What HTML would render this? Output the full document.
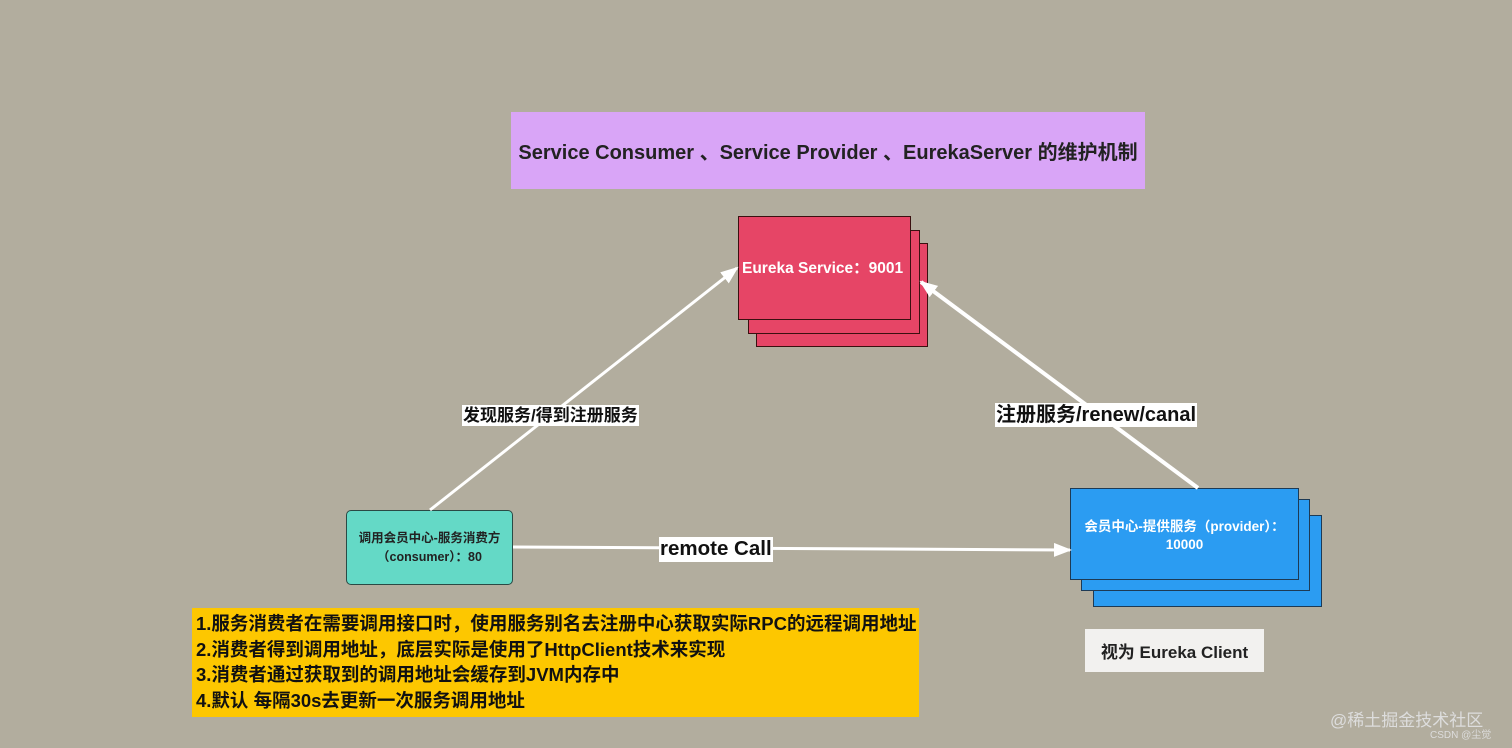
<!DOCTYPE html>
<html><head><meta charset="utf-8"><style>
body{margin:0;width:1512px;height:748px;background:#b2ad9e;position:relative;overflow:hidden;font-family:"Liberation Sans","Noto Sans CJK SC",sans-serif;font-weight:bold}
.a{position:absolute;box-sizing:border-box}
.lbl{position:absolute;background:#fff;color:#111;white-space:nowrap;line-height:1}
</style></head><body>
<div class="a" style="left:511px;top:112px;width:634px;height:77px;background:#d9a5f7;display:flex;align-items:center;justify-content:center;font-size:20px;color:#222">Service Consumer 、Service Provider 、EurekaServer 的维护机制</div>

<div class="a" style="left:756px;top:243px;width:172px;height:104px;background:#e64566;border:1.5px solid #3a1010"></div>
<div class="a" style="left:748px;top:230px;width:172px;height:104px;background:#e64566;border:1.5px solid #3a1010"></div>
<div class="a" style="left:738px;top:216px;width:173px;height:104px;background:#e64566;border:1.5px solid #3a1010;color:#fff;font-size:15.5px;display:flex;align-items:center;padding-left:3px;padding-bottom:2px;white-space:nowrap">Eureka Service：9001</div>

<div class="a" style="left:1093px;top:515px;width:229px;height:92px;background:#2b9cf2;border:1.5px solid #1d3a55"></div>
<div class="a" style="left:1081px;top:499px;width:229px;height:92px;background:#2b9cf2;border:1.5px solid #1d3a55"></div>
<div class="a" style="left:1070px;top:488px;width:229px;height:92px;background:#2b9cf2;border:1.5px solid #1d3a55;color:#fff;font-size:13.5px;text-align:center;padding-top:29px;line-height:18px;white-space:nowrap">会员中心-提供服务（provider）：<br>10000</div>

<div class="a" style="left:346px;top:510px;width:167px;height:75px;background:#64d9c6;border:1px solid #2a4a45;border-radius:5px;color:#222;font-size:12.5px;text-align:center;padding-top:18px;line-height:19px;white-space:nowrap">调用会员中心-服务消费方<br>（consumer）：80</div>

<svg class="a" style="left:0;top:0" width="1512" height="748">
<defs><marker id="m2" markerWidth="18" markerHeight="14" refX="16" refY="7" orient="auto" markerUnits="userSpaceOnUse"><path d="M0,0 L18,7 L0,14 z" fill="#fff"/></marker></defs>
<line x1="430" y1="510" x2="737" y2="268" stroke="#fff" stroke-width="3" marker-end="url(#m2)"/>
<line x1="1198" y1="488" x2="921" y2="282" stroke="#fff" stroke-width="4" marker-end="url(#m2)"/>
<line x1="513" y1="547" x2="1070" y2="550" stroke="#fff" stroke-width="3" marker-end="url(#m2)"/>
</svg>

<div class="lbl" style="left:462px;top:405px;font-size:17px;padding:2px 1px">发现服务/得到注册服务</div>
<div class="lbl" style="left:995px;top:403px;font-size:20px;padding:2px 1px">注册服务/renew/canal</div>
<div class="lbl" style="left:659px;top:537px;font-size:20.5px;padding:2px 1px">remote Call</div>

<div class="a" style="left:192px;top:608px;width:727px;height:109px;background:#fdc700;color:#111;font-size:18.5px;padding:3px 0 0 4px;line-height:25.5px;white-space:nowrap">1.服务消费者在需要调用接口时，使用服务别名去注册中心获取实际RPC的远程调用地址<br>2.消费者得到调用地址，底层实际是使用了HttpClient技术来实现<br>3.消费者通过获取到的调用地址会缓存到JVM内存中<br>4.默认 每隔30s去更新一次服务调用地址</div>

<div class="a" style="left:1085px;top:629px;width:179px;height:43px;background:#f2f1ef;color:#222;font-size:17px;display:flex;align-items:center;justify-content:center;white-space:nowrap">视为 Eureka Client</div>

<div class="a" style="left:1330px;top:706px;font-size:17px;color:#ddd;font-weight:normal">@稀土掘金技术社区</div>
<div class="a" style="left:1430px;top:726px;font-size:10px;color:#ddd;font-weight:normal">CSDN @尘觉</div>
</body></html>
